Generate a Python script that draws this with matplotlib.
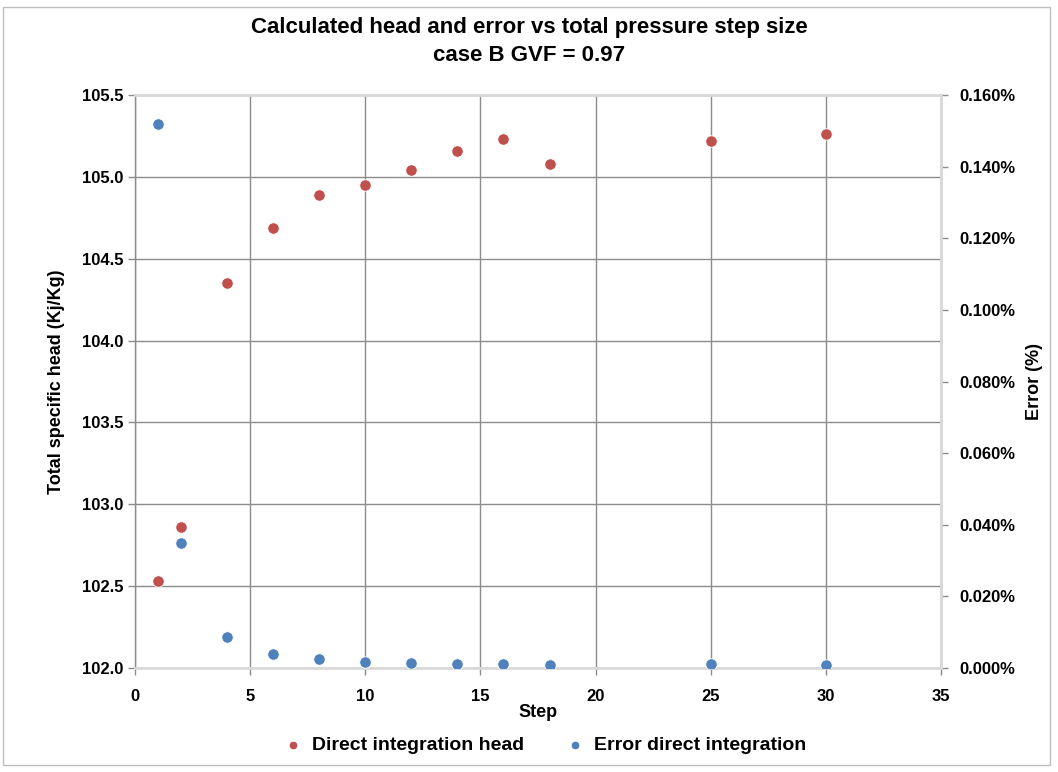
import matplotlib
matplotlib.use("Agg")
import matplotlib.pyplot as plt
from matplotlib.ticker import MultipleLocator, FuncFormatter
from matplotlib.patches import Rectangle

# values
steps = [1, 2, 4, 6, 8, 10, 12, 14, 16, 18, 25, 30]
head = [102.53, 102.86, 104.35, 104.69, 104.89, 104.95,
        105.04, 105.16, 105.23, 105.08, 105.22, 105.26]
error_pct = [0.1520, 0.0350, 0.0086, 0.0039, 0.0024, 0.0017,
             0.0014, 0.0012, 0.0010, 0.0008, 0.0010, 0.0008]

RED = "#C0504D"
BLUE = "#4F81BD"
GRID = "#8C8C8C"
AXIS = "#D9D9D9"

plt.rcParams["font.family"] = ["Liberation Sans Narrow", "Liberation Sans", "DejaVu Sans"]
plt.rcParams["font.weight"] = "bold"

fig = plt.figure(figsize=(10.58, 7.72), dpi=100)
W, H = 1058, 772
ax = fig.add_axes([135 / W, 1 - 668 / H, (941 - 135) / W, (668 - 95) / H])
ax2 = ax.twinx()

# chart border
fig.patches.append(Rectangle((3 / W, 7 / H), (1050 - 3) / W, (765 - 7) / H,
                             transform=fig.transFigure, fill=False,
                             edgecolor="#BFBFBF", linewidth=1.0))

ax.set_xlim(0, 35)
ax.set_ylim(102.0, 105.5)
ax2.set_ylim(0, 0.16)
ax.xaxis.set_major_locator(MultipleLocator(5))
ax.yaxis.set_major_locator(MultipleLocator(0.5))
ax2.yaxis.set_major_locator(MultipleLocator(0.02))
ax.yaxis.set_major_formatter(FuncFormatter(lambda v, p: f"{v:.1f}"))
ax2.yaxis.set_major_formatter(FuncFormatter(lambda v, p: f"{v:.3f}%"))

ax.grid(True, color=GRID, linewidth=1.0)
ax.set_axisbelow(True)
for s in ["top", "right", "bottom"]:
    ax.spines[s].set_color(AXIS)
    ax.spines[s].set_linewidth(2)
ax.spines["left"].set_color(GRID)
ax.spines["left"].set_linewidth(1)
for s in ax2.spines:
    ax2.spines[s].set_visible(False)
ax2.spines["right"].set_visible(True)
ax2.spines["right"].set_color(AXIS)
ax2.spines["right"].set_linewidth(2)

ax.tick_params(axis="both", labelsize=12, color=GRID, length=5, width=1)
ax.tick_params(axis="x", pad=10)
ax2.tick_params(axis="y", labelsize=12, color=GRID, length=5, width=1, pad=8)

ax.scatter(steps, head, s=68, color=RED, edgecolors="white", linewidths=0.6,
           zorder=3, label="Direct integration head")
ax2.scatter(steps, error_pct, s=68, color=BLUE, edgecolors="white", linewidths=0.6,
            zorder=3, label="Error direct integration")

ax.set_xlabel("Step", fontsize=13, fontweight="bold", labelpad=0)
ax.set_ylabel("Total specific head (Kj/Kg)", fontsize=13, fontweight="bold", labelpad=12)
ax2.set_ylabel("Error (%)", fontsize=13, fontweight="bold", labelpad=8)

fig.suptitle("Calculated head and error vs total pressure step size\ncase B GVF = 0.97",
             y=0.978, fontsize=16, fontweight="bold", linespacing=1.45)

h1, l1 = ax.get_legend_handles_labels()
h2, l2 = ax2.get_legend_handles_labels()
fig.legend(h1 + h2, l1 + l2, loc="center", bbox_to_anchor=(540 / W, 1 - 745 / H),
           ncol=2, frameon=False, fontsize=14, handletextpad=0.0, columnspacing=1.6,
           markerscale=0.75)

fig.savefig("out.png", dpi=100)
